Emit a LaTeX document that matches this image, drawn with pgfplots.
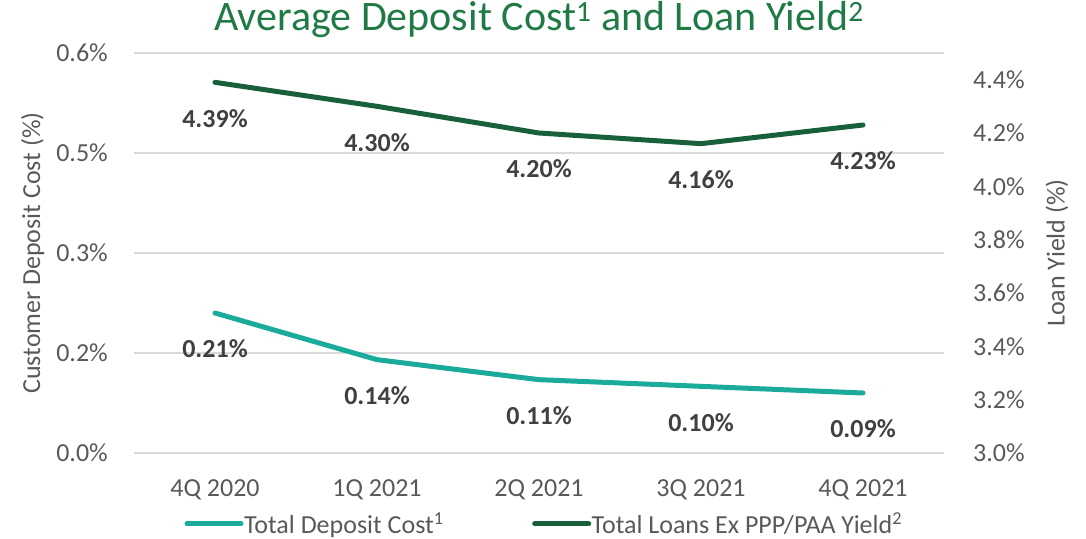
\documentclass[border=0pt]{standalone}
\usepackage{pgfplots}
\pgfplotsset{compat=1.18}
\usepackage{fontspec}
\setmainfont{Carlito}
\definecolor{tealline}{HTML}{1AAB9B}
\definecolor{greenline}{HTML}{18603A}
\definecolor{titlegreen}{HTML}{1F7A45}
\definecolor{ticktext}{HTML}{595959}
\definecolor{labeltext}{HTML}{404040}
\definecolor{gridgray}{HTML}{D9D9D9}
\newcommand{\cfont}{\fontsize{26bp}{31bp}\selectfont}

\pgfplotsset{
  base/.style={
    scale only axis, width=810bp, height=400bp,
    at={(134bp,86bp)}, anchor=south west,
    xmin=-0.5, xmax=4.5, clip=false,
    /pgf/number format/assume math mode=true,
    tick label style={font=\cfont, text=ticktext, inner sep=0pt},
    label style={font=\cfont, text=ticktext},
    major tick length=0pt, minor tick length=0pt,
    axis line style={draw=none},
  },
  dlabels/.style={
    nodes near coords={\pgfmathprintnumber[fixed,fixed zerofill,precision=2]{\pgfplotspointmeta}\%},
    every node near coord/.append style={font=\cfont\bfseries, text=labeltext, anchor=center, yshift=-36bp},
  },
}

\begin{document}
\begin{tikzpicture}
\path[use as bounding box] (0,0) rectangle (1086bp,539bp);

% left axis: deposit cost
\begin{axis}[base,
  ymin=0, ymax=0.6,
  ytick={0,0.15,0.3,0.45,0.6},
  yticklabels={0.0\%,0.2\%,0.3\%,0.5\%,0.6\%},
  ymajorgrids, grid style={gridgray, line width=1.5bp},
  xtick={0,1,2,3,4},
  xticklabels={4Q 2020,1Q 2021,2Q 2021,3Q 2021,4Q 2021},
  xticklabel style={anchor=base, yshift=-43bp},
  yticklabel style={anchor=east, xshift=-26bp},
  ylabel={Customer Deposit Cost (\%)},
  ylabel style={at={(axis description cs:-0.125,0.5)}, anchor=center},
  title={Average Deposit Cost\textsuperscript{1} and Loan Yield\textsuperscript{2}},
  title style={at={(axis description cs:0.5,1)}, anchor=base, yshift=17bp,
    font=\fontsize{42bp}{50bp}\selectfont, text=titlegreen},
]
\addplot[tealline, line width=5bp, line cap=round, line join=round, mark=none, dlabels]
  coordinates {(0,0.21) (1,0.14) (2,0.11) (3,0.10) (4,0.09)};
\end{axis}

% right axis: loan yield
\begin{axis}[base,
  ymin=3.0, ymax=4.5,
  axis y line*=right, axis x line=none,
  ytick={3.0,3.2,3.4,3.6,3.8,4.0,4.2,4.4},
  yticklabels={3.0\%,3.2\%,3.4\%,3.6\%,3.8\%,4.0\%,4.2\%,4.4\%},
  yticklabel style={anchor=west, xshift=29bp},
  ylabel={Loan Yield (\%)},
  ylabel style={at={(axis description cs:1.1395,0.5)}, anchor=center, rotate=0},
  legend style={draw=none, fill=none, at={(axis description cs:0.5056,-0.177)},
    anchor=center, legend columns=2, font=\cfont, text=ticktext,
    inner sep=0pt, nodes={inner sep=0.5bp},
    /tikz/every even column/.append style={column sep=88bp}},
  legend image code/.code={\draw[#1, line width=5bp, line cap=round] (0bp,0bp) -- (54bp,0bp);},
]
\addlegendimage{tealline}
\addlegendentry{Total Deposit Cost\textsuperscript{1}}
\addplot[greenline, line width=5bp, line cap=round, line join=round, mark=none, dlabels]
  coordinates {(0,4.39) (1,4.30) (2,4.20) (3,4.16) (4,4.23)};
\addlegendentry{Total Loans Ex PPP/PAA Yield\textsuperscript{2}}
\end{axis}
\end{tikzpicture}
\end{document}
